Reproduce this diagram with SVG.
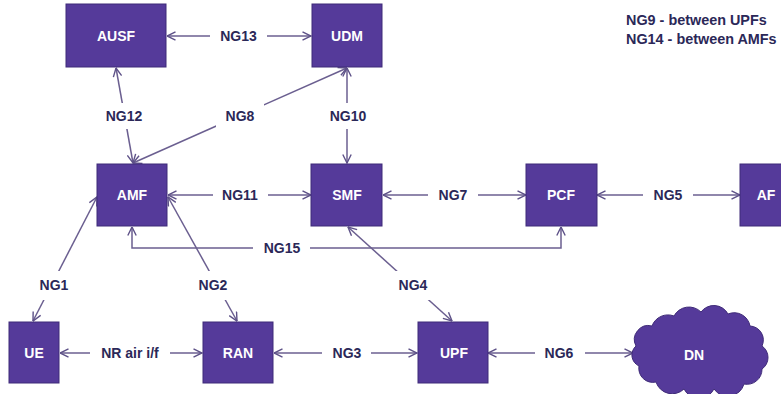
<svg xmlns="http://www.w3.org/2000/svg" width="781" height="394" viewBox="0 0 781 394">
  <style>
    .box { fill: #553a9a; stroke: #3f2b78; stroke-width: 1; }
    .nlabel { font-family: "Liberation Sans", Arial, sans-serif; font-size: 14px; font-weight: bold; fill: #ffffff; text-anchor: middle; }
    .link { fill: none; stroke: #6b5f90; stroke-width: 1.5; marker-start: url(#arr); marker-end: url(#arr); }
    .lbg { fill: #ffffff; }
    .elabel { font-family: "Liberation Sans", Arial, sans-serif; font-size: 14px; font-weight: bold; fill: #2b2858; text-anchor: middle; }
    .note { font-family: "Liberation Sans", Arial, sans-serif; font-size: 14.4px; font-weight: bold; fill: #2b2858; }
  </style>
  <defs>
    <marker id="arr" viewBox="0 0 10 10" refX="9.5" refY="5" markerWidth="10" markerHeight="10" markerUnits="userSpaceOnUse" orient="auto-start-reverse">
      <path d="M1,0.8 L9.5,5 L1,9.2" fill="none" stroke="#5e5288" stroke-width="1.4"/>
    </marker>
  </defs>

  <rect width="781" height="394" fill="#ffffff"/>

  <!-- interfaces -->
  <g id="connectors">
    <path class="link" d="M167,36 L311,36"/>
    <path class="link" d="M133,163 L116,68"/>
    <path class="link" d="M133,163 L347,68"/>
    <path class="link" d="M347,68 L347,163"/>
    <path class="link" d="M168,195 L311,195"/>
    <path class="link" d="M383,195 L526,195"/>
    <path class="link" d="M597,195 L740,195"/>
    <path class="link" d="M132,227 L132,248 L561,248 L561,227"/>
    <path class="link" d="M97,197 L33,321"/>
    <path class="link" d="M168,197 L237,321"/>
    <path class="link" d="M348,227 L452,321"/>
    <path class="link" d="M60,353 L202,353"/>
    <path class="link" d="M274,353 L417,353"/>
    <path class="link" d="M488,353 L633,353"/>

    <!-- interface labels on white backing -->
    <g id="link-labels">
      <rect class="lbg" x="210" y="23" width="57" height="26"/>
      <text class="elabel" x="238.5" y="41">NG13</text>
      <rect class="lbg" x="100" y="103" width="48" height="26"/>
      <text class="elabel" x="124" y="121">NG12</text>
      <rect class="lbg" x="216" y="103" width="48" height="26"/>
      <text class="elabel" x="240" y="121">NG8</text>
      <rect class="lbg" x="324" y="103" width="48" height="26"/>
      <text class="elabel" x="348" y="121">NG10</text>
      <rect class="lbg" x="213" y="182" width="55" height="26"/>
      <text class="elabel" x="240" y="200">NG11</text>
      <rect class="lbg" x="428" y="182" width="50" height="26"/>
      <text class="elabel" x="453" y="200">NG7</text>
      <rect class="lbg" x="643" y="182" width="50" height="26"/>
      <text class="elabel" x="668" y="200">NG5</text>
      <rect class="lbg" x="253" y="236" width="57" height="24"/>
      <text class="elabel" x="282" y="253">NG15</text>
      <rect class="lbg" x="32" y="271" width="44" height="29"/>
      <text class="elabel" x="54" y="290">NG1</text>
      <rect class="lbg" x="191" y="271" width="44" height="29"/>
      <text class="elabel" x="213" y="290">NG2</text>
      <rect class="lbg" x="391" y="271" width="44" height="29"/>
      <text class="elabel" x="413" y="290">NG4</text>
      <rect class="lbg" x="90" y="340" width="80" height="26"/>
      <text class="elabel" x="130" y="358">NR air i/f</text>
      <rect class="lbg" x="322" y="340" width="49" height="26"/>
      <text class="elabel" x="347" y="358">NG3</text>
      <rect class="lbg" x="535" y="340" width="50" height="26"/>
      <text class="elabel" x="559" y="358">NG6</text>
    </g>
  </g>

  <g id="AUSF">
    <rect class="box" x="66" y="4" width="100" height="63"/>
    <text class="nlabel" x="116" y="41">AUSF</text>
  </g>
  <g id="UDM">
    <rect class="box" x="312" y="4" width="70" height="63"/>
    <text class="nlabel" x="347" y="41">UDM</text>
  </g>
  <g id="AMF">
    <rect class="box" x="97" y="164" width="70" height="62"/>
    <text class="nlabel" x="132" y="200">AMF</text>
  </g>
  <g id="SMF">
    <rect class="box" x="311" y="164" width="71" height="62"/>
    <text class="nlabel" x="347" y="200">SMF</text>
  </g>
  <g id="PCF">
    <rect class="box" x="526" y="164" width="71" height="62"/>
    <text class="nlabel" x="561" y="200">PCF</text>
  </g>
  <g id="AF">
    <rect class="box" x="740" y="164" width="70" height="62"/>
    <text class="nlabel" x="766" y="200">AF</text>
  </g>
  <g id="UE">
    <rect class="box" x="9" y="322" width="50" height="61"/>
    <text class="nlabel" x="34" y="358">UE</text>
  </g>
  <g id="RAN">
    <rect class="box" x="203" y="322" width="70" height="61"/>
    <text class="nlabel" x="238" y="358">RAN</text>
  </g>
  <g id="UPF">
    <rect class="box" x="418" y="322" width="70" height="61"/>
    <text class="nlabel" x="454" y="358">UPF</text>
  </g>
  <g id="DN">
    <path class="box" d="M636,346 A14,14 0 0 1 652,326 A17,17 0 0 1 674,316 A17,17 0 0 1 701,312 A16,16 0 0 1 728,314 A16,16 0 0 1 750,326 A14,14 0 0 1 762,346 A14,14 0 0 1 762,369 A15,15 0 0 1 744,384 A17,17 0 0 1 714,389 A17,17 0 0 1 684,389 A17,17 0 0 1 656,382 A14,14 0 0 1 639,366 A12,12 0 0 1 636,346 Z"/>
    <text class="nlabel" x="694" y="360">DN</text>
  </g>

  <g id="notes">
    <text class="note" x="626" y="25">NG9 - between UPFs</text>
    <text class="note" x="626" y="44">NG14 - between AMFs</text>
  </g>
</svg>
